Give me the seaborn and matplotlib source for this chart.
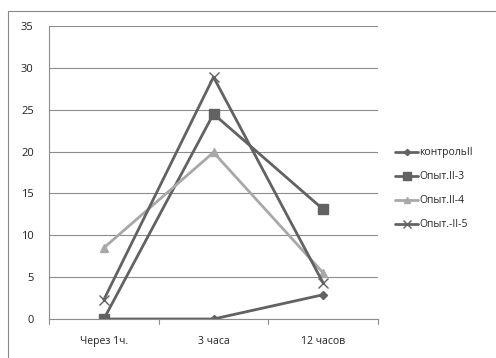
import matplotlib
matplotlib.use("Agg")
import matplotlib.pyplot as plt
import seaborn as sns
import pandas as pd
from matplotlib.patches import Rectangle

categories = ["Через 1ч.", "3 часа", "12 часов"]
series_names = ["контрольII", "Опыт.II-3", "Опыт.II-4", "Опыт.-II-5"]
control = [0, 0, 2.9]
opyt3 = [0, 24.5, 13.1]
opyt4 = [8.5, 19.9, 5.5]
opyt5 = [2.3, 28.9, 4.3]
yticks = [0, 5, 10, 15, 20, 25, 30, 35]

values = [control, opyt3, opyt4, opyt5]
rows = []
for name, vals in zip(series_names, values):
    for c, v in zip(categories, vals):
        rows.append({"cat": c, "value": v, "series": name})
df = pd.DataFrame(rows)

sns.set_theme(style="white")
plt.rcParams['font.family'] = ['Open Sans', 'DejaVu Sans']

fig = plt.figure(figsize=(4.96, 3.58), dpi=100)
ax = fig.add_axes([49/496, 1 - 319/358, (378 - 49)/496, (319 - 26)/358])

dark = "#626262"
light = "#a8a8a8"
palette = {series_names[0]: dark, series_names[1]: dark,
           series_names[2]: light, series_names[3]: dark}
markers = {series_names[0]: "D", series_names[1]: "s",
           series_names[2]: "^", series_names[3]: "x"}
sizes_m = {series_names[0]: 4, series_names[1]: 7,
           series_names[2]: 6, series_names[3]: 7}

for name in series_names:
    sub = df[df["series"] == name]
    sns.lineplot(data=sub, x="cat", y="value", ax=ax, sort=False,
                 color=palette[name], marker=markers[name],
                 markersize=sizes_m[name], markeredgewidth=1.0,
                 markeredgecolor=palette[name], linewidth=2.0, label=name)

ax.set_xlim(-0.5, 2.5)
ax.set_ylim(0, 35)
ax.set_yticks(yticks)
ax.set_xlabel("")
ax.set_ylabel("")
ax.grid(axis="y", color="#8c8c8c", linewidth=0.8)
ax.set_axisbelow(True)
for s in ["top", "right"]:
    ax.spines[s].set_visible(False)
ax.spines["left"].set_color("#8c8c8c")
ax.spines["bottom"].set_color("#8c8c8c")
ax.spines["left"].set_linewidth(0.8)
ax.spines["bottom"].set_linewidth(0.8)

ax.tick_params(axis="y", length=0, labelsize=8, colors="#222222", pad=11)
ax.set_xticks([0, 1, 2])
ax.set_xticklabels(categories)
ax.tick_params(axis="x", length=0, labelsize=7.5, colors="#222222", pad=12)
for xb in [-0.5, 0.5, 1.5, 2.5]:
    ax.plot([xb, xb], [0, -0.6], color="#8c8c8c", lw=0.8, clip_on=False)

leg = ax.legend(loc="upper left", bbox_to_anchor=(1.04, 0.6), frameon=False,
                fontsize=7.5, handlelength=2.2, handletextpad=0.1,
                labelspacing=1.25, borderaxespad=0, markerscale=0.8)

fig.patches.append(Rectangle((8/496, -0.1), 1.2, 1 - 11/358 + 0.1,
                             transform=fig.transFigure, fill=False,
                             edgecolor="#888888", linewidth=0.8))

fig.savefig("out.png", dpi=100)
